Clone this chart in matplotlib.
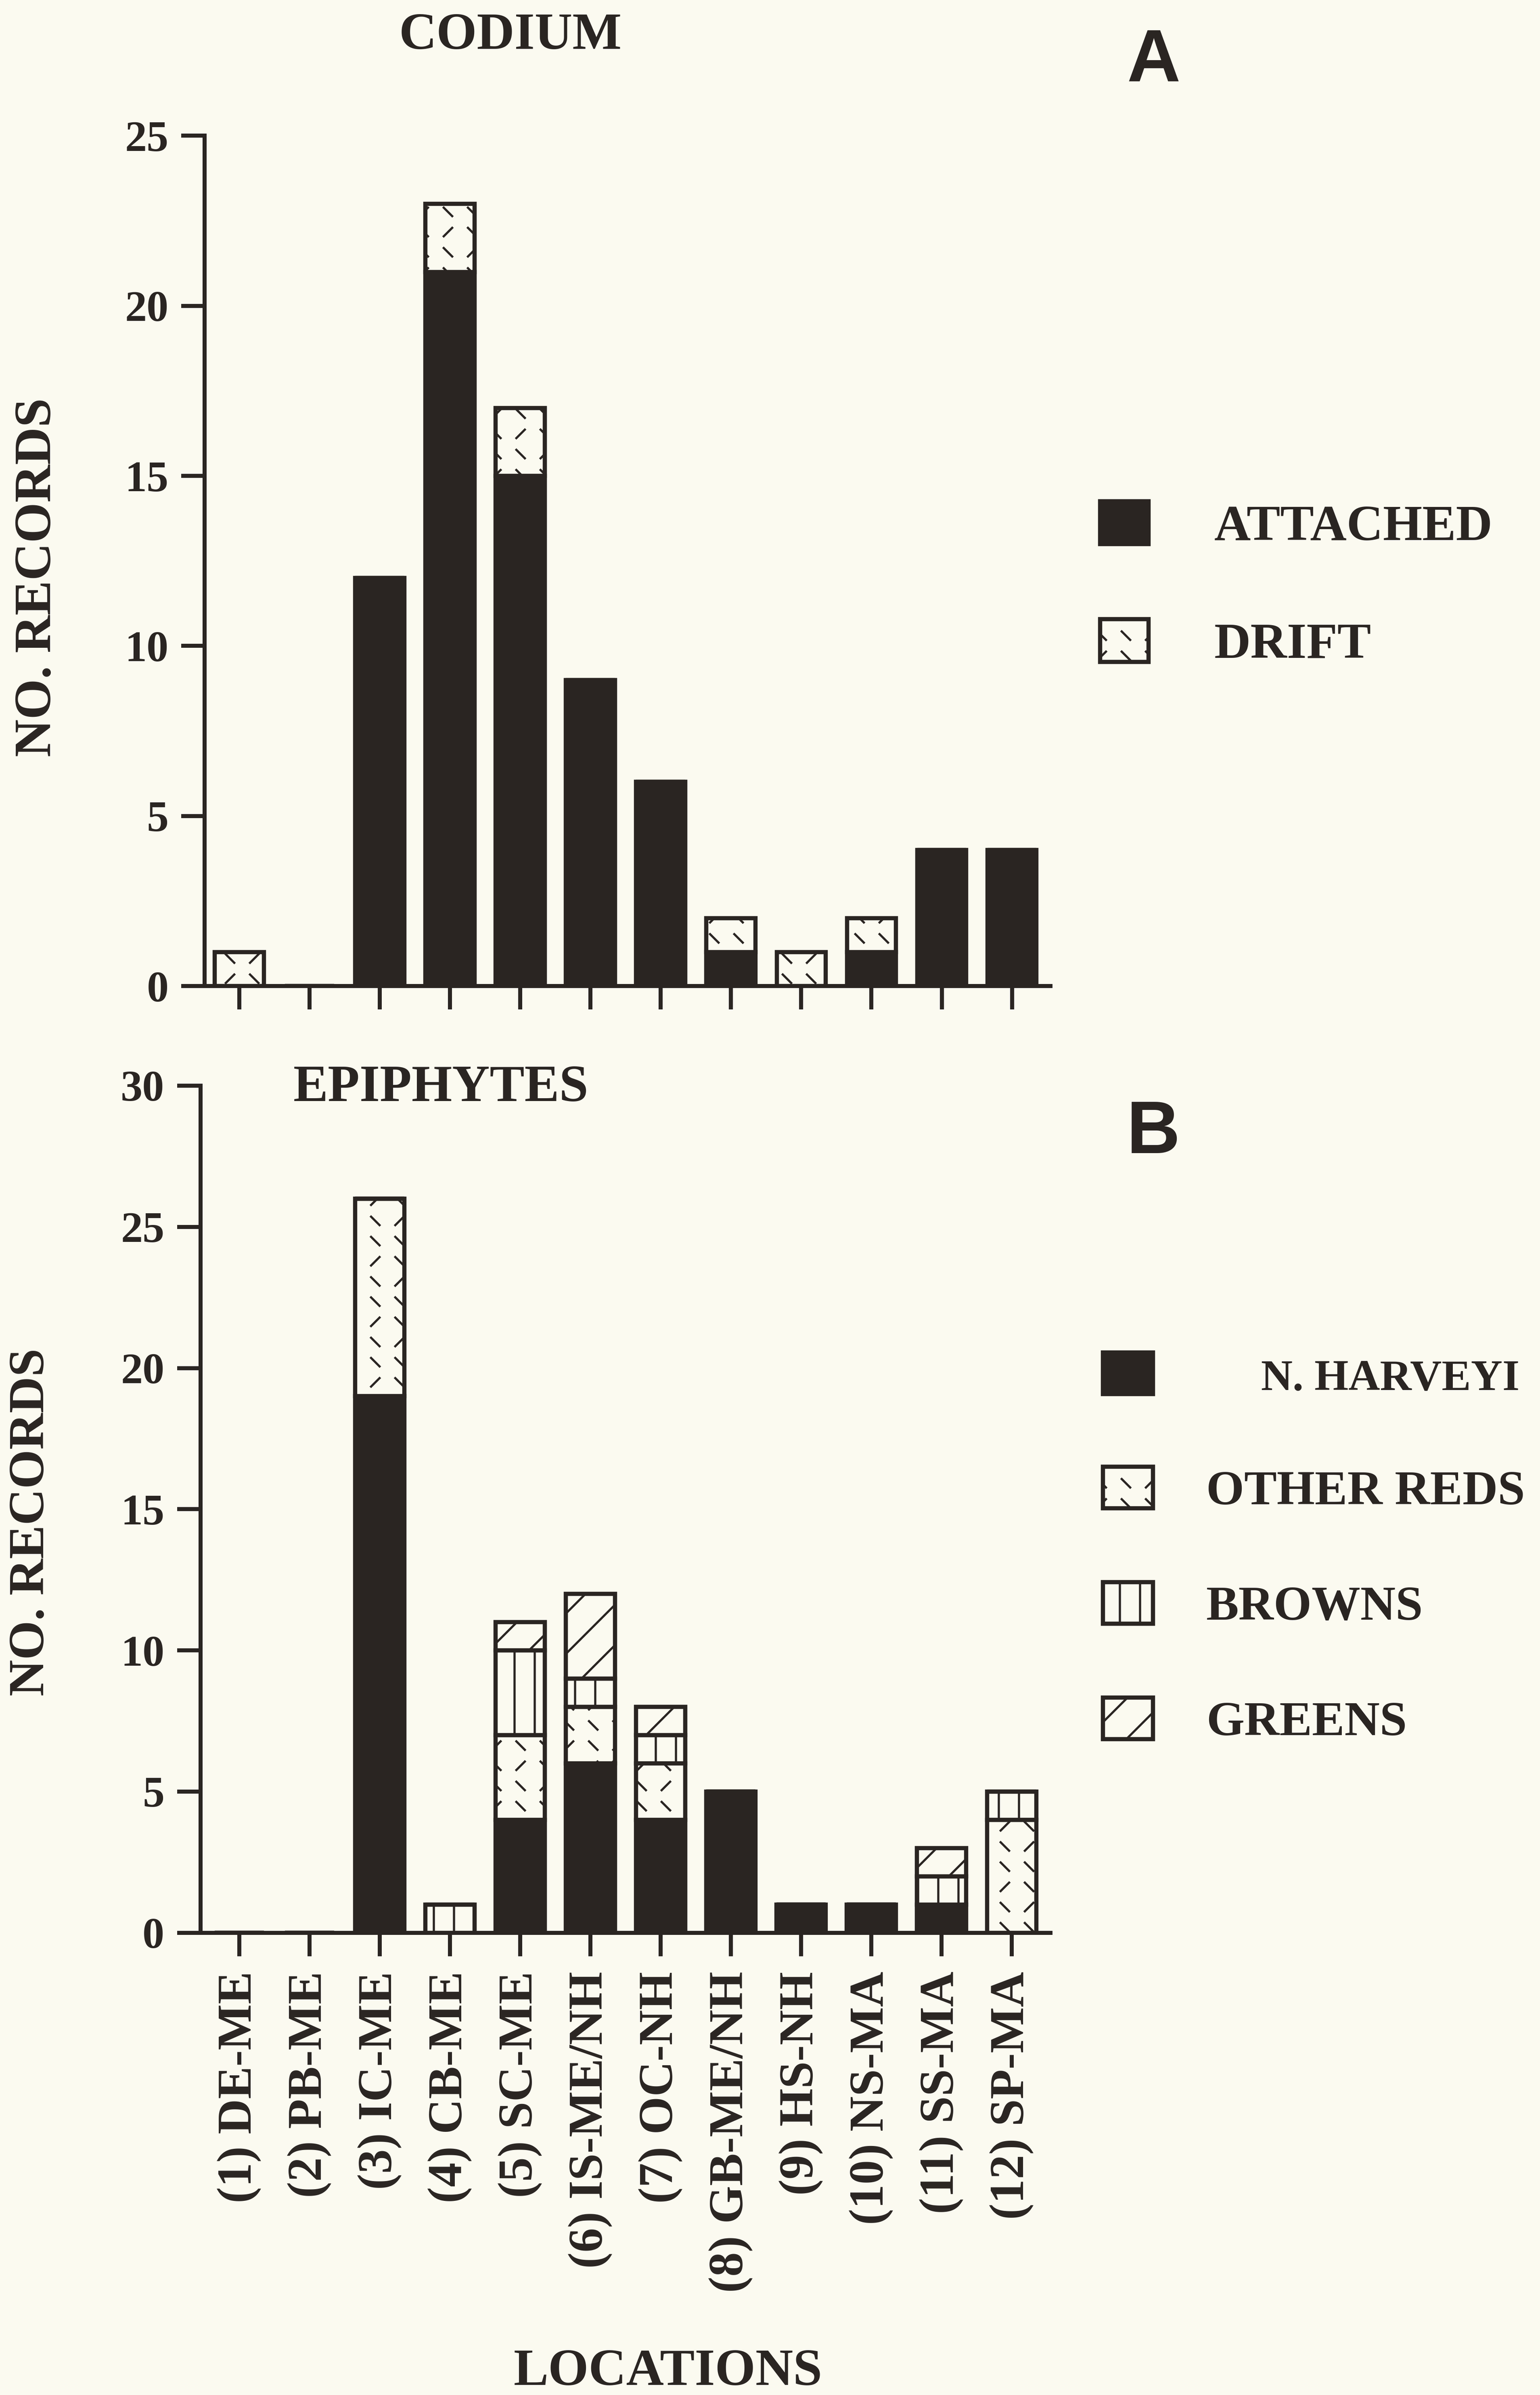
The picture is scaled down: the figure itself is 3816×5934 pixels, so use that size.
"""
Codium records by location (A) and epiphytes on Codium (B)
"""
import numpy as np
import matplotlib
matplotlib.use("Agg")
import matplotlib.pyplot as plt
import matplotlib.hatch as mhatch
from matplotlib.patches import Patch
from matplotlib.path import Path

locations = ["(1) DE-ME", "(2) PB-ME", "(3) IC-ME", "(4) CB-ME", "(5) SC-ME",
	"(6) IS-ME/NH", "(7) OC-NH", "(8) GB-ME/NH", "(9) HS-NH",
	"(10) NS-MA", "(11) SS-MA", "(12) SP-MA"]

# panel A, codium
attached = [0, 0, 12, 21, 15, 9, 6, 1, 0, 1, 4, 4]
drift = [1, 0, 0, 2, 2, 0, 0, 1, 1, 1, 0, 0]

# panel B, epiphytes
n_harveyi = [0, 0, 19, 0, 4, 6, 4, 5, 1, 1, 1, 0]
other_reds = [0, 0, 7, 0, 3, 2, 2, 0, 0, 0, 0, 4]
browns = [0, 0, 0, 1, 3, 1, 1, 0, 0, 0, 1, 1]
greens = [0, 0, 0, 0, 1, 3, 1, 0, 0, 0, 1, 0]

PAPER = "#fbfaf0"
INK = "#2a2522"


class BrokenDashes(mhatch.HatchPatternBase):
	"""
	scattered short strokes, used in place of the 'o' hatch
	"""
	cols, rows = 5, 6

	def __init__(self, hatch, density):
		self.num_vertices = 2 * self.cols * self.rows if "o" in hatch else 0

	def set_vertices_and_codes(self, vertices, codes):
		k = 0
		d = 0.035
		for i in range(self.cols):
			for j in range(self.rows):
				cx = (i + 0.5) / self.cols
				cy = (j + 0.5) / self.rows
				s = 1 if (i + j) % 3 == 0 else -1
				vertices[k] = (cx - d, cy - s * d)
				vertices[k + 1] = (cx + d, cy + s * d)
				codes[k] = Path.MOVETO
				codes[k + 1] = Path.LINETO
				k += 2


mhatch._hatch_types = [BrokenDashes if t is mhatch.SmallCircles else t
	for t in mhatch._hatch_types]

plt.rcParams["font.family"] = "Liberation Serif"
plt.rcParams["font.weight"] = "bold"
plt.rcParams["hatch.linewidth"] = 1.3
plt.rcParams["hatch.color"] = INK
plt.rcParams["text.color"] = INK

fig = plt.figure(figsize=(12.72, 19.78), dpi=300, facecolor=PAPER)
ax_a = fig.add_axes([0.1329, 0.5883, 0.5493, 0.3550])
ax_b = fig.add_axes([0.1302, 0.1930, 0.5519, 0.3537])

x = np.arange(1, len(locations) + 1)
w = 0.7
lw = 2.5

# A
ax_a.bar(x, attached, width=w, color=INK, edgecolor=INK, linewidth=lw)
ax_a.bar(x, drift, width=w, bottom=attached, color=PAPER, edgecolor=INK,
	linewidth=lw, hatch="o")
ax_a.set_ylim(0, 25)
ax_a.set_yticks(range(0, 26, 5))
ax_a.set_xlim(0.506, 12.55)

# B
bottom = np.zeros(len(x))
for vals, fill, hatch in [(n_harveyi, INK, None), (other_reds, PAPER, "o"),
		(browns, PAPER, "|"), (greens, PAPER, "/")]:
	ax_b.bar(x, vals, width=w, bottom=bottom, color=fill, edgecolor=INK,
		linewidth=lw, hatch=hatch)
	bottom = bottom + np.array(vals)
ax_b.set_ylim(0, 30)
ax_b.set_yticks(range(0, 31, 5))
ax_b.set_xlim(0.448, 12.55)

for ax in (ax_a, ax_b):
	ax.set_facecolor(PAPER)
	ax.set_xticks(x)
	for side in ("top", "right"):
		ax.spines[side].set_visible(False)
	for side in ("left", "bottom"):
		ax.spines[side].set_linewidth(2.4)
		ax.spines[side].set_color(INK)
	ax.tick_params(axis="both", direction="out", length=14, width=2.4, color=INK)
	ax.tick_params(axis="y", labelsize=26, pad=7.5, labelcolor=INK)

ax_a.tick_params(axis="x", labelbottom=False)
ax_b.set_xticklabels(locations, rotation=90, fontsize=29, va="top")
ax_b.tick_params(axis="x", pad=9, labelcolor=INK)

# labels
fig.text(0.0246, 0.759, "NO. RECORDS", rotation=90, ha="center", va="center",
	fontsize=31)
fig.text(0.0204, 0.3644, "NO. RECORDS", rotation=90, ha="center", va="center",
	fontsize=30)
fig.text(0.3315, 0.9848, "CODIUM", ha="center", va="center", fontsize=31)
fig.text(0.2864, 0.5455, "EPIPHYTES", ha="center", va="center", fontsize=31)
fig.text(0.749, 0.9742, "A", ha="center", va="center", fontsize=44,
	family="Liberation Sans")
fig.text(0.749, 0.5266, "B", ha="center", va="center", fontsize=44,
	family="Liberation Sans")
fig.text(0.4337, 0.0095, "LOCATIONS", ha="center", va="center", fontsize=31)

# legends
h_a = [Patch(facecolor=INK, edgecolor=INK, linewidth=lw),
	Patch(facecolor=PAPER, edgecolor=INK, linewidth=lw, hatch="o")]
fig.legend(h_a, ["ATTACHED", "DRIFT"], loc="upper left",
	bbox_to_anchor=(0.7144, 0.7907), frameon=False, fontsize=30,
	borderpad=0, borderaxespad=0, handlelength=0.96, handleheight=0.93,
	handletextpad=1.3, labelspacing=1.35)

h_b = [Patch(facecolor=INK, edgecolor=INK, linewidth=lw),
	Patch(facecolor=PAPER, edgecolor=INK, linewidth=lw, hatch="o"),
	Patch(facecolor=PAPER, edgecolor=INK, linewidth=lw, hatch="|"),
	Patch(facecolor=PAPER, edgecolor=INK, linewidth=lw, hatch="/")]
leg_b = fig.legend(h_b, ["     N. HARVEYI", "OTHER REDS", "BROWNS", "GREENS"],
	loc="upper left", bbox_to_anchor=(0.7162, 0.4353), frameon=False,
	fontsize=29, borderpad=0, borderaxespad=0, handlelength=1.03,
	handleheight=0.94, handletextpad=1.09, labelspacing=1.38)
leg_b.get_texts()[0].set_fontsize(26)

fig.savefig("out.png", dpi=300, facecolor=PAPER)
